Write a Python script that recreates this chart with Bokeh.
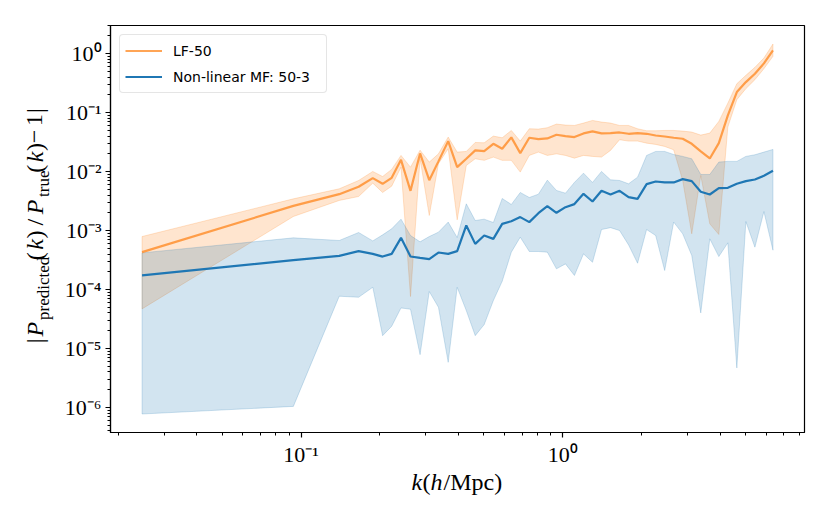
import math
from bokeh.plotting import figure
from bokeh.layouts import row, column
from bokeh.models import Range1d, FixedTicker, Legend, LegendItem, Label
from bokeh.embed import file_html
from bokeh.resources import INLINE

# ---------------- data ----------------
k = [0.0247, 0.0935, 0.140, 0.166, 0.188, 0.205, 0.222, 0.241, 0.262, 0.285, 0.309,
     0.335, 0.365, 0.395, 0.428, 0.463, 0.501, 0.543, 0.587, 0.636, 0.688, 0.745,
     0.807, 0.873, 0.946, 1.024, 1.108, 1.200, 1.299, 1.406, 1.522, 1.648, 1.784,
     1.931, 2.091, 2.264, 2.451, 2.653, 2.872, 3.110, 3.367, 3.645, 3.946, 4.272,
     4.624, 5.006, 5.420, 5.867, 6.353]

lf_mean = [4.30e-4, 2.62e-3, 4.14e-3, 5.52e-3, 7.74e-3, 6.21e-3, 7.85e-3, 1.585e-2, 4.72e-3, 2.03e-2, 7.16e-3,
           1.49e-2, 3.29e-2, 1.19e-2, 1.65e-2, 2.29e-2, 2.22e-2, 2.96e-2, 2.44e-2, 3.80e-2, 2.06e-2, 3.75e-2,
           3.56e-2, 3.65e-2, 4.22e-2, 4.00e-2, 3.85e-2, 4.44e-2, 4.80e-2, 4.44e-2, 4.49e-2, 4.61e-2, 4.38e-2,
           4.50e-2, 4.38e-2, 4.10e-2, 3.94e-2, 3.75e-2, 3.61e-2, 2.96e-2, 2.20e-2, 1.67e-2, 3.04e-2, 8.97e-2,
           0.223, 0.330, 0.457, 0.685, 1.14]
lf_upper = [7.92e-4, 3.45e-3, 5.11e-3, 7.07e-3, 1.005e-2, 8.26e-3, 1.09e-2, 1.88e-2, 1.19e-2, 2.31e-2, 1.45e-2,
            2.00e-2, 3.85e-2, 2.14e-2, 2.20e-2, 3.12e-2, 3.08e-2, 4.00e-2, 3.75e-2, 4.99e-2, 3.29e-2, 5.33e-2,
            5.26e-2, 5.55e-2, 6.40e-2, 6.15e-2, 6.07e-2, 6.65e-2, 7.38e-2, 6.92e-2, 6.65e-2, 6.07e-2, 6.07e-2,
            5.33e-2, 4.93e-2, 4.93e-2, 4.99e-2, 4.99e-2, 4.86e-2, 4.68e-2, 4.16e-2, 4.50e-2, 7.10e-2, 0.145,
            0.310, 0.429, 0.586, 0.844, 1.46]
lf_lower = [4.69e-5, 1.73e-3, 3.24e-3, 3.78e-3, 6.37e-3, 4.42e-3, 5.66e-3, 1.19e-2, 7.59e-5, 1.65e-2, 1.80e-3,
            1.36e-2, 2.44e-2, 1.52e-3, 1.27e-2, 1.65e-2, 1.55e-2, 1.76e-2, 1.55e-2, 1.55e-2, 9.8e-3, 1.88e-2,
            2.14e-2, 1.88e-2, 2.00e-2, 1.88e-2, 1.69e-2, 1.88e-2, 1.81e-2, 1.76e-2, 2.29e-2, 3.47e-2, 3.29e-2,
            3.29e-2, 3.04e-2, 2.89e-2, 2.67e-2, 2.34e-2, 7.07e-3, 8.79e-4, 8.59e-3, 1.30e-3, 8.57e-4, 5.69e-2,
            0.166, 0.255, 0.362, 0.556, 0.901]

mf_mean = [1.73e-4, 3.14e-4, 3.72e-4, 4.47e-4, 4.02e-4, 3.62e-4, 4.02e-4, 7.52e-4, 3.63e-4, 3.44e-4, 3.27e-4,
           4.24e-4, 4.02e-4, 4.47e-4, 1.22e-3, 5.94e-4, 8.24e-4, 7.23e-4, 1.30e-3, 1.44e-3, 1.69e-3, 1.39e-3,
           1.97e-3, 2.59e-3, 2.00e-3, 2.49e-3, 2.81e-3, 4.20e-3, 3.11e-3, 4.72e-3, 4.09e-3, 4.72e-3, 3.68e-3,
           3.45e-3, 6.12e-3, 6.79e-3, 6.55e-3, 6.55e-3, 7.45e-3, 6.89e-3, 4.54e-3, 4.09e-3, 5.24e-3, 5.31e-3,
           6.21e-3, 6.89e-3, 7.35e-3, 8.49e-3, 1.03e-2]
mf_upper = [4.18e-4, 7.52e-4, 6.78e-4, 9.27e-4, 6.68e-4, 8.45e-4, 1.07e-3, 1.56e-3, 8.24e-4, 6.43e-4, 7.92e-4,
            9.38e-4, 1.39e-3, 7.62e-4, 2.84e-3, 1.48e-3, 1.56e-3, 1.37e-3, 3.50e-3, 2.77e-3, 4.42e-3, 3.64e-3,
            4.14e-3, 7.16e-3, 4.79e-3, 4.31e-3, 6.55e-3, 9.42e-3, 6.55e-3, 1.005e-2, 7.26e-3, 7.07e-3, 6.21e-3,
            8.05e-3, 1.88e-2, 2.20e-2, 2.20e-2, 1.95e-2, 1.81e-2, 1.65e-2, 8.94e-3, 8.94e-3, 1.45e-2, 1.49e-2,
            1.49e-2, 1.81e-2, 1.93e-2, 2.14e-2, 2.38e-2]
mf_lower = [7.73e-7, 1.04e-6, 7.69e-5, 7.39e-5, 1.09e-4, 1.65e-5, 2.38e-5, 4.87e-5, 4.62e-5, 7.85e-6, 9.23e-5,
            5.00e-5, 5.82e-6, 1.09e-4, 4.39e-5, 1.65e-5, 2.54e-5, 6.49e-5, 1.38e-4, 4.30e-4, 7.71e-4, 4.41e-4,
            4.41e-4, 4.30e-4, 2.24e-4, 2.72e-4, 1.73e-4, 4.02e-4, 2.90e-4, 1.04e-3, 1.12e-3, 1.00e-3, 5.71e-4,
            2.79e-4, 1.04e-3, 8.24e-4, 2.10e-4, 1.39e-3, 8.79e-4, 3.77e-4, 4.01e-5, 7.23e-4, 3.62e-4, 6.18e-4,
            4.67e-6, 1.42e-3, 5.22e-4, 2.10e-3, 4.64e-4]

series_labels = ["LF-50", "Non-linear MF: 50-3"]

x_major = [0.1, 1.0]
x_major_text = ["10\u207b\u00b9", "10\u2070"]
y_major = [1e-6, 1e-5, 1e-4, 1e-3, 1e-2, 1e-1, 1.0]
y_major_text = ["10\u207b\u2076", "10\u207b\u2075", "10\u207b\u2074", "10\u207b\u00b3",
                "10\u207b\u00b2", "10\u207b\u00b9", "10\u2070"]

# ---------------- styling / layout ----------------
ORANGE = "#ff7f0e"
BLUE = "#1f77b4"
SERIF = "Liberation Serif"

TOTAL_W, TOTAL_H = 826, 515
FRAME_L, FRAME_T, FRAME_R, FRAME_B = 110, 25, 804, 432   # page pixels
YW = 60                     # strip holding the y-axis title
PH = 470                    # height of the main plot (the rest holds the x-axis title)
PW = TOTAL_W - YW


def pad_range(lo_vals, hi_vals, frac=0.05):
    lo = math.log10(min(lo_vals))
    hi = math.log10(max(hi_vals))
    span = hi - lo
    return 10 ** (lo - frac * span), 10 ** (hi + frac * span)


x0, x1 = pad_range(k, k)
y0, y1 = pad_range(mf_lower + lf_lower, mf_upper + lf_upper)

p = figure(width=PW, height=PH, x_axis_type="log", y_axis_type="log",
           x_range=Range1d(x0, x1), y_range=Range1d(y0, y1),
           output_backend="svg", toolbar_location=None,
           min_border_left=FRAME_L - YW, min_border_right=PW - (FRAME_R - YW),
           min_border_top=FRAME_T, min_border_bottom=PH - FRAME_B)
p.background_fill_color = "white"
p.border_fill_color = "white"
p.xgrid.visible = False
p.ygrid.visible = False
p.outline_line_color = "black"
p.outline_line_width = 1.2

# bands
p.patch(k + k[::-1], lf_upper + lf_lower[::-1], fill_color=ORANGE, fill_alpha=0.2,
        line_color=ORANGE, line_alpha=0.2, line_width=1)
p.patch(k + k[::-1], mf_upper + mf_lower[::-1], fill_color=BLUE, fill_alpha=0.2,
        line_color=BLUE, line_alpha=0.2, line_width=1)
# mean lines
r_lf = p.line(k, lf_mean, line_color=ORANGE, line_alpha=0.7, line_width=2.2)
r_mf = p.line(k, mf_mean, line_color=BLUE, line_width=2.2)

# axes
x_minor = [m * 10 ** e for e in (-2, -1, 0) for m in range(2, 10)]
y_minor = [m * 10 ** e for e in range(-7, 1) for m in range(2, 10)]
p.xaxis.ticker = FixedTicker(ticks=x_major, minor_ticks=x_minor)
p.yaxis.ticker = FixedTicker(ticks=y_major, minor_ticks=y_minor)
p.xaxis.major_label_overrides = {t: s for t, s in zip(x_major, x_major_text)}
p.yaxis.major_label_overrides = {t: s for t, s in zip(y_major, y_major_text)}
for ax in (p.xaxis, p.yaxis):
    ax.axis_line_color = "black"
    ax.axis_line_width = 1.2
    ax.major_tick_line_color = "black"
    ax.minor_tick_line_color = "black"
    ax.major_tick_line_width = 1.2
    ax.minor_tick_line_width = 1.0
    ax.major_tick_in = 0
    ax.major_tick_out = 5
    ax.minor_tick_in = 0
    ax.minor_tick_out = 3
    ax.major_label_text_font = SERIF
    ax.major_label_text_font_size = "22px"
    ax.major_label_text_color = "black"
p.yaxis.major_label_standoff = 4
p.xaxis.major_label_standoff = 4

# legend
legend = Legend(items=[LegendItem(label=series_labels[0], renderers=[r_lf]),
                       LegendItem(label=series_labels[1], renderers=[r_mf])],
                location="top_left", margin=9, padding=5, spacing=5,
                glyph_width=37, glyph_height=21, label_height=21, label_standoff=11,
                label_width=148,
                label_text_font="DejaVu Sans", label_text_font_size="14px",
                label_text_color="black",
                border_line_color="#cccccc", border_line_width=1,
                background_fill_color="white", background_fill_alpha=0.8)
if hasattr(Legend, "border_radius"):
    legend.border_radius = 4
p.add_layout(legend)


def text_strip(w, h):
    f = figure(width=w, height=h, x_range=Range1d(0, w), y_range=Range1d(h, 0),
               x_axis_type=None, y_axis_type=None, output_backend="svg",
               toolbar_location=None, min_border=0)
    f.min_border_left = f.min_border_right = f.min_border_top = f.min_border_bottom = 0
    f.outline_line_color = None
    f.background_fill_color = "white"
    f.border_fill_color = "white"
    return f


# y-axis title: |P_predicted(k)/P_true(k) - 1|, rotated pieces (page pixels, centre line)
yfig = text_strip(YW, PH)
MAIN_X, SUB_X = 34, 43
y_pieces = [("|", 367, "normal", 24, MAIN_X), ("P", 359, "italic", 24, MAIN_X),
            ("predicted", 340, "normal", 17, SUB_X), ("(", 271, "normal", 24, MAIN_X),
            ("k", 259, "italic", 24, MAIN_X), (")", 246, "normal", 24, MAIN_X),
            ("/", 231, "normal", 24, MAIN_X), ("P", 218, "italic", 24, MAIN_X),
            ("true", 198, "normal", 17, SUB_X), ("(", 170, "normal", 24, MAIN_X),
            ("k", 158, "italic", 24, MAIN_X), (")", 145, "normal", 24, MAIN_X),
            ("\u2212", 136, "normal", 24, MAIN_X), ("1", 116, "normal", 24, MAIN_X),
            ("|", 101, "normal", 24, MAIN_X)]
for txt, ypos, style, size, xmid in y_pieces:
    yfig.add_layout(Label(x=xmid, y=ypos, text=txt, angle=math.pi / 2,
                          text_align="left", text_baseline="middle",
                          text_font=SERIF, text_font_style=style,
                          text_font_size=f"{size}px", text_color="black"))

# x-axis title: k(h/Mpc)
xfig = text_strip(TOTAL_W, TOTAL_H - PH)
x_pieces = [("k", 411, "italic"), ("(", 422, "normal"), ("h", 430, "italic"),
            ("/Mpc)", 443, "normal")]
for txt, xpos, style in x_pieces:
    xfig.add_layout(Label(x=xpos, y=481 - PH, text=txt, text_align="left",
                          text_baseline="middle", text_font=SERIF,
                          text_font_style=style, text_font_size="24px",
                          text_color="black"))

layout = column(row(yfig, p, spacing=0), xfig, spacing=0)
open("out.html", "w").write(file_html(layout, INLINE))
